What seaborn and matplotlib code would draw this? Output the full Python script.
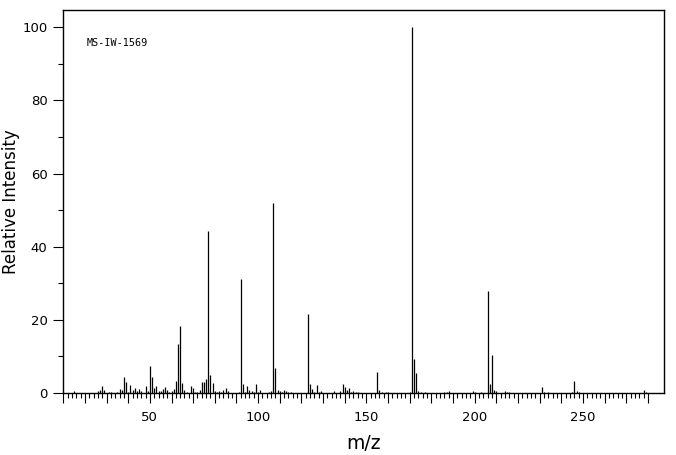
import matplotlib
matplotlib.use("Agg")
import matplotlib.pyplot as plt
import seaborn as sns
import numpy as np
from matplotlib.ticker import MultipleLocator, FuncFormatter

sns.set_theme(style="ticks")
plt.rcParams['font.family'] = ['DejaVu Sans']

# spectrum peaks (m/z, relative intensity)
mz = [15, 26, 27, 28, 29, 31, 32, 35, 36, 37, 38, 39, 40, 41, 42, 43, 44, 45, 46,
      48, 49, 50, 51, 52, 53, 54, 55, 56, 57, 58, 59, 60, 61, 62, 63, 64, 65, 66,
      67, 69, 70, 71, 72, 73, 74, 75, 76, 77, 78, 79, 80, 81, 82, 83, 84, 85, 86,
      91, 92, 93, 94, 95, 96, 97, 98, 99, 100, 101, 105, 106, 107, 108, 109, 110,
      111, 112, 113, 114, 115, 123, 124, 125, 126, 127, 128, 129, 135, 138, 139,
      140, 141, 142, 143, 144, 145, 146, 155, 156, 157, 159, 160, 170, 171, 172,
      173, 174, 175, 177, 186, 187, 188, 199, 200, 203, 206, 207, 208, 209, 210,
      214, 215, 216, 231, 232, 234, 245, 246, 247, 248, 278, 279]
intensity = [0.5, 0.5, 0.8, 1.9, 0.8, 0.3, 0.3, 0.3, 1.1, 0.8, 4.4, 3.0, 0.3, 2.2,
             0.8, 1.4, 0.5, 1.1, 0.5, 1.9, 0.5, 7.4, 4.4, 1.4, 1.9, 0.5, 0.5, 1.1,
             1.6, 0.8, 0.3, 0.5, 1.1, 3.3, 13.4, 18.3, 2.7, 0.8, 0.3, 1.9, 1.4, 0.3,
             0.3, 0.8, 3.0, 3.0, 3.8, 44.2, 4.9, 2.7, 0.5, 0.3, 0.5, 0.3, 0.8, 1.4,
             0.5, 0.3, 31.2, 2.5, 0.3, 1.9, 0.8, 0.5, 0.3, 2.5, 0.3, 0.8, 0.3, 0.5,
             52.0, 6.8, 0.8, 0.5, 0.3, 0.8, 0.5, 0.3, 0.3, 21.5, 2.5, 1.1, 0.3, 2.2,
             0.3, 0.5, 0.5, 0.5, 2.5, 1.6, 0.8, 1.4, 0.3, 0.5, 0.3, 0.3, 5.7, 0.8,
             0.3, 0.3, 0.3, 0.3, 100.0, 9.3, 5.5, 0.5, 0.3, 0.3, 0.3, 0.3, 0.5, 0.5,
             0.3, 0.3, 27.9, 2.5, 10.5, 0.8, 0.5, 0.5, 0.3, 0.3, 1.6, 0.3, 0.3, 0.3,
             3.3, 0.5, 0.3, 0.8, 0.3]

fig = plt.figure(figsize=(6.76, 4.55), dpi=100)
ax = fig.add_axes([63 / 676, 62 / 455, 601 / 676, 383 / 455])

ax.vlines(mz, 0, intensity, color="black", linewidth=0.9)

ax.set_xlim(9.9, 287.4)
ax.set_ylim(0, 104.7)

for s in ax.spines.values():
    s.set_color("black")
    s.set_linewidth(1.0)

ax.xaxis.set_major_locator(MultipleLocator(10))
ax.set_xticks(np.arange(12, 281, 2), minor=True)
ax.xaxis.set_major_formatter(FuncFormatter(lambda v, p: f"{int(round(v))}" if round(v) % 50 == 0 else ""))
ax.yaxis.set_major_locator(MultipleLocator(20))
ax.yaxis.set_minor_locator(MultipleLocator(10))

ax.tick_params(axis="both", which="both", direction="out", colors="black",
               width=0.8, labelsize=9.5)
ax.tick_params(axis="x", which="major", length=5.0, pad=8)
ax.tick_params(axis="x", which="minor", length=3.6)
ax.tick_params(axis="y", which="major", length=7.2, pad=4)
ax.tick_params(axis="y", which="minor", length=3.6)

# 50-unit ticks are drawn longer
for t in ax.xaxis.get_major_ticks():
    if round(t.get_loc()) % 50 == 0:
        t.tick1line.set_markersize(7.2)

ax.set_xlabel("m/z", fontsize=13.5, color="black", labelpad=7)
ax.set_ylabel("Relative Intensity", fontsize=12, color="black")
ax.yaxis.set_label_coords(-0.072, 0.5)
ax.grid(False)

ax.text(0.04, 0.928, "MS-IW-1569", transform=ax.transAxes, fontsize=7.3,
        family="DejaVu Sans Mono", color="black", va="top", ha="left")

fig.savefig("out.png", dpi=100, facecolor="white")
